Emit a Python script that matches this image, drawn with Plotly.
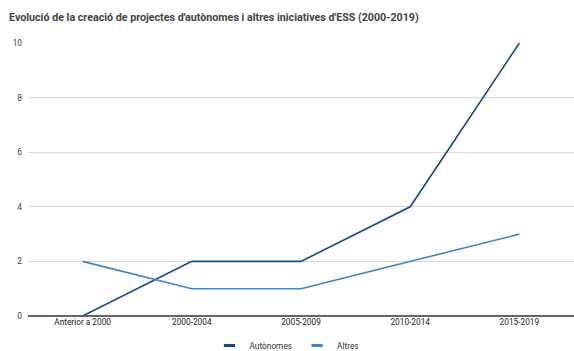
import plotly.graph_objects as go

# Periods and number of projects created in each
periodes = ["Anterior a 2000", "2000-2004", "2005-2009", "2010-2014", "2015-2019"]
autonomes = [0, 2, 2, 4, 10]
altres = [2, 1, 1, 2, 3]

y_ticks = [0, 2, 4, 6, 8, 10]

color_autonomes = "#1c4587"
color_altres = "#3d85c6"

fig = go.Figure()

fig.add_trace(go.Scatter(
    x=periodes, y=autonomes, mode="lines", name="Autònomes",
    line=dict(color=color_autonomes, width=1.6), showlegend=False,
))
fig.add_trace(go.Scatter(
    x=periodes, y=altres, mode="lines", name="Altres",
    line=dict(color=color_altres, width=1.6), showlegend=False,
))

# Compact legend keys (short thick dashes)
for name, col in [("Autònomes", color_autonomes), ("Altres", color_altres)]:
    fig.add_trace(go.Scatter(
        x=[None], y=[None], mode="markers", name=name,
        marker=dict(symbol="line-ew-open", size=8, color=col, line=dict(color=col, width=3)),
    ))

fig.update_layout(
    width=574, height=351,
    margin=dict(l=28, r=0, t=43, b=35, autoexpand=False),
    paper_bgcolor="white", plot_bgcolor="white",
    font=dict(family="Roboto, Arial, sans-serif", size=8.3, color="#222222"),
    title=dict(
        text="<b>Evolució de la creació de projectes d'autònomes i altres iniciatives d'ESS (2000-2019)</b>",
        x=9 / 574, xref="container", xanchor="left", y=1 - 17 / 351, yref="container", yanchor="middle",
        pad=dict(l=0),
        font=dict(family="Roboto, Arial, sans-serif", size=10.7, color="#444444"),
    ),
    showlegend=True,
    legend=dict(
        orientation="h", x=0.5, xref="container", xanchor="center",
        y=5.5 / 351, yref="container", yanchor="middle",
        font=dict(size=8.3, color="#333333"), itemwidth=30, tracegroupgap=0,
        bgcolor="rgba(0,0,0,0)",
    ),
    xaxis=dict(
        type="category", categoryorder="array", categoryarray=periodes,
        range=[-0.5, 4.5], showgrid=False, zeroline=False, showline=False,
        ticks="", tickfont=dict(size=8.3, color="#222222"), fixedrange=True,
    ),
    yaxis=dict(
        range=[0, 10], tickvals=y_ticks, showgrid=True, gridcolor="#d9d9d9", gridwidth=1,
        zeroline=True, zerolinecolor="#666666", zerolinewidth=1.5,
        ticks="", ticklabelstandoff=5, tickfont=dict(size=8.3, color="#444444"),
    ),
)

fig.write_html("out.html")
